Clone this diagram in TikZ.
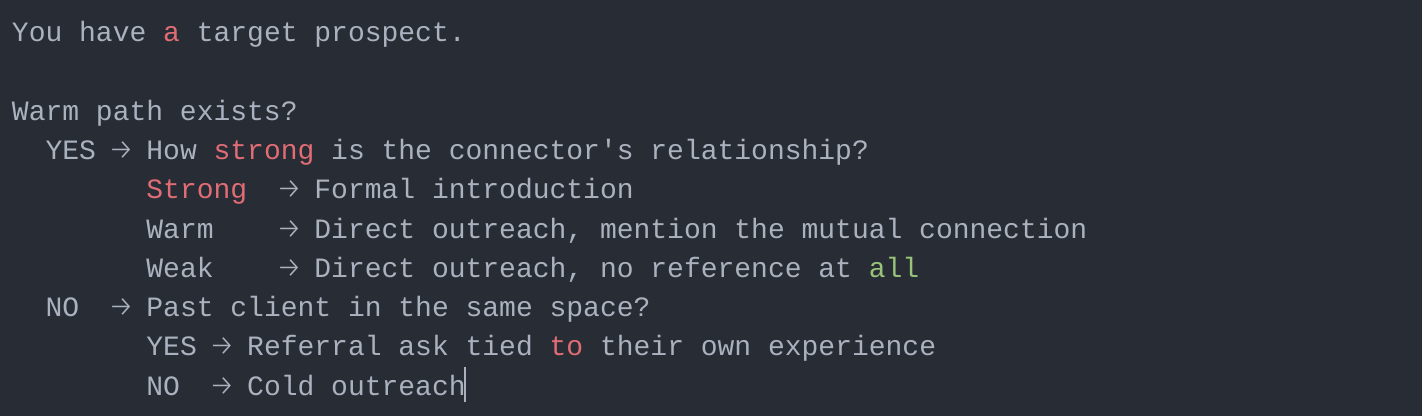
\documentclass[tikz,border=0pt]{standalone}
\usepackage{fontspec}
\newfontfamily\term{Liberation Mono}
\newfontfamily\arfont{Fira Sans Light}
\definecolor{bg}{HTML}{282C34}
\definecolor{fg}{HTML}{ABB2BF}
\definecolor{hlred}{HTML}{E06C75}
\definecolor{hlgreen}{HTML}{98C379}
\newcommand\rd[1]{\textcolor{hlred}{#1}}
\newcommand\gn[1]{\textcolor{hlgreen}{#1}}
\newcommand\arr{\makebox[16.8pt]{\arfont\fontsize{29}{29}\selectfont →}}
\begin{document}
\begin{tikzpicture}[x=1pt,y=1pt,
  ln/.style={anchor=base west, inner sep=0pt, outer sep=0pt, text=fg,
    font=\term\fontsize{28}{28}\selectfont},
  cursor/.style={draw=fg, line width=1.5pt}]
\fill[bg] (0,0) rectangle (1422,416);
\useasboundingbox (0,0) rectangle (1422,416);
% column k at x = 12 + 16.8 k ; line j baseline at y = 416 - (41.7 + 39.26 j)
\node[ln] (l0)  at ({12+0*16.8},{416-41.7-0*39.26}) {You have \rd{a} target prospect.};
\node[ln] (l2)  at ({12+0*16.8},{416-41.7-2*39.26}) {Warm path exists?};
\node[ln] (l3)  at ({12+2*16.8},{416-41.7-3*39.26}) {YES \arr{} How \rd{strong} is the connector's relationship?};
\node[ln] (l4a) at ({12+8*16.8},{416-41.7-4*39.26}) {\rd{Strong}};
\node[ln] (l4b) at ({12+16*16.8},{416-41.7-4*39.26}) {\arr{} Formal introduction};
\node[ln] (l5a) at ({12+8*16.8},{416-41.7-5*39.26}) {Warm};
\node[ln] (l5b) at ({12+16*16.8},{416-41.7-5*39.26}) {\arr{} Direct outreach, mention the mutual connection};
\node[ln] (l6a) at ({12+8*16.8},{416-41.7-6*39.26}) {Weak};
\node[ln] (l6b) at ({12+16*16.8},{416-41.7-6*39.26}) {\arr{} Direct outreach, no reference at \gn{all}};
\node[ln] (l7a) at ({12+2*16.8},{416-41.7-7*39.26}) {NO};
\node[ln] (l7b) at ({12+6*16.8},{416-41.7-7*39.26}) {\arr{} Past client in the same space?};
\node[ln] (l8)  at ({12+8*16.8},{416-41.7-8*39.26}) {YES \arr{} Referral ask tied \rd{to} their own experience};
\node[ln] (l9a) at ({12+8*16.8},{416-41.7-9*39.26}) {NO};
\node[ln] (l9b) at ({12+12*16.8},{416-41.7-9*39.26}) {\arr{} Cold outreach};
\coordinate (cur) at ([xshift=-0.5pt]l9b.base east);
\draw[cursor] ([yshift=-7pt]cur) -- ([yshift=28pt]cur);
\end{tikzpicture}
\end{document}
